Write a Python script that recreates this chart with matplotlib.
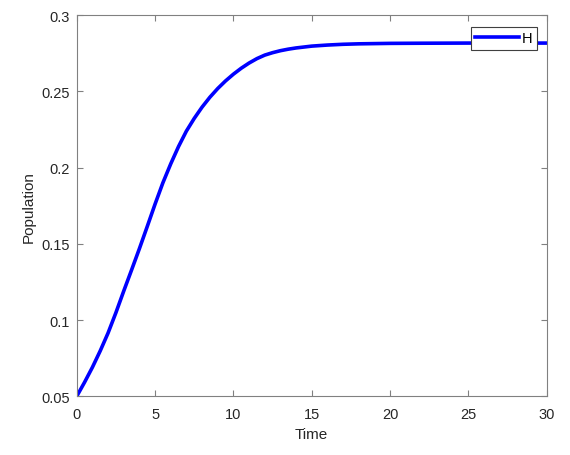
import matplotlib
matplotlib.use("Agg")
import matplotlib.pyplot as plt

# values
time = [0, 0.5, 1, 1.5, 2, 2.5, 3, 3.5, 4, 4.5, 5, 5.5, 6, 6.5, 7, 7.5, 8,
        8.5, 9, 9.5, 10, 10.5, 11, 11.5, 12, 12.5, 13, 13.5, 14, 15, 16, 17,
        18, 20, 22, 25, 30]
H = [0.0500, 0.0592, 0.0690, 0.0798, 0.0915, 0.1048, 0.1190, 0.1328, 0.1468,
     0.1613, 0.1760, 0.1900, 0.2024, 0.2138, 0.2239, 0.2322, 0.2396, 0.2461,
     0.2518, 0.2568, 0.2612, 0.2651, 0.2685, 0.2714, 0.2737, 0.2753, 0.2766,
     0.2776, 0.2784, 0.2796, 0.2803, 0.2808, 0.2811, 0.2814, 0.2815, 0.2816,
     0.2816]

xticks = [0, 5, 10, 15, 20, 25, 30]
yticks = [0.05, 0.1, 0.15, 0.2, 0.25, 0.3]
ytick_labels = ["0.05", "0.1", "0.15", "0.2", "0.25", "0.3"]

plt.rcParams["font.family"] = ["Liberation Sans", "DejaVu Sans"]
plt.rcParams["font.size"] = 10

fig = plt.figure(figsize=(5.7, 4.56), dpi=100)
ax = fig.add_axes([0.1346, 0.1287, 0.8246, 0.8362])

ax.plot(time, H, color="#0000ff", linewidth=2.6, label="H")

ax.set_xlim(0, 30)
ax.set_ylim(0.05, 0.3)
ax.set_xticks(xticks)
ax.set_yticks(yticks)
ax.set_yticklabels(ytick_labels)

# matlab style frame
for s in ax.spines.values():
    s.set_color("#808080")
    s.set_linewidth(0.8)
ax.tick_params(direction="in", top=True, right=True, length=4,
               color="#808080", labelcolor="#262626", labelsize=10.5)
ax.tick_params(axis="x", pad=8)
ax.tick_params(axis="y", pad=5)
ax.set_xlabel("Time", fontsize=11, color="#262626", labelpad=4)
ax.set_ylabel("Population", fontsize=11, color="#262626", labelpad=4)

leg = ax.legend(loc="upper right", bbox_to_anchor=(0.979, 0.969),
                borderaxespad=0, fancybox=False, framealpha=1,
                edgecolor="#404040", handlelength=3.0, handletextpad=0.2,
                borderpad=0.3, fontsize=10.5)
leg.get_frame().set_linewidth(0.8)

fig.savefig("out.png", dpi=100)
